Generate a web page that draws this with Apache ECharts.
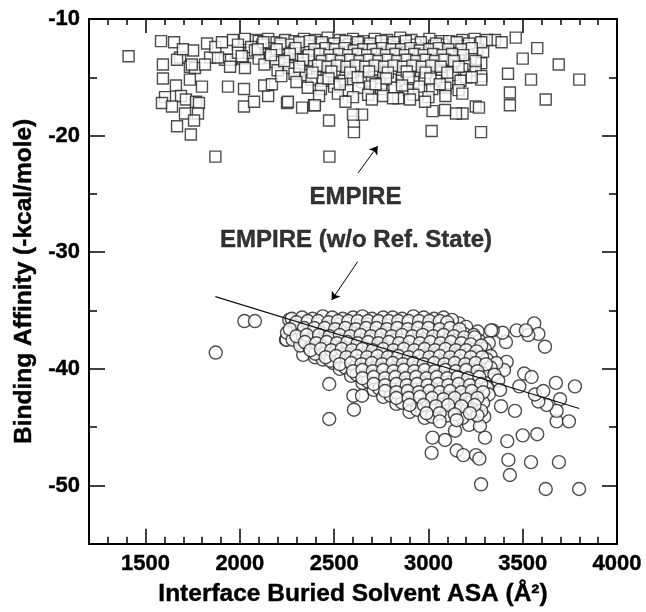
<!DOCTYPE html>
<html>
<head>
<meta charset="utf-8">
<script src="https://cdn.jsdelivr.net/npm/echarts@6/dist/echarts.min.js"></script>
<style>
  html, body { margin: 0; padding: 0; background: #fff; }
  #main { width: 646px; height: 612px; }
</style>
</head>
<body>
<div id="main"></div>
<script>
// EMPIRE scores (squares)
var empirePts = [
  [1410,-13.2],[1870,-21.8],[2475,-21.8],[2605,-19.7],[2605,-18.8],[2648,-18.2],[3017,-19.6],[3279,-19.7],
  [3251,-17.5],[3268,-17.6],[3181,-18.1],[3146,-18.1],[3088,-17.8],[3022,-17.9],[3432,-17.4],[3432,-16.3],
  [3422,-14.7],[3463,-11.6],[3500,-13.4],[3577,-12.5],[3544,-15.2],[3622,-16.9],[3691,-13.9],[3800,-15.2],
  [3353,-11.8],[3388,-12.0],[3309,-11.8],
  [1582,-11.9],[1651,-12.0],[1683,-13.3],[1752,-12.7],[1667,-13.5],[1592,-15.1],[1661,-15.7],[1603,-16.7],
  [1688,-16.6],[1587,-17.2],[1640,-17.5],[1714,-16.9],[1767,-17.1],[1783,-17.2],[1709,-18.1],[1778,-18.1],
  [1757,-18.7],[1667,-19.2],[1740,-19.9],[1937,-15.8],[2022,-16.0],[2022,-17.5],[2075,-17.1],[2150,-16.6],
  [2129,-15.7],[2170,-15.6],[2250,-17.2],[2330,-17.6],[2393,-17.4],[2473,-18.7],[2600,-18.2],[1592,-13.9],
  [1735,-14.1],[1762,-14.2],[1698,-12.6],[1826,-12.1],[1842,-13.3],[1921,-13.5],[1884,-13.3],[1953,-13.5],
  [2017,-13.4],[1963,-11.8],[2027,-11.7],[2085,-11.8],[1948,-14.1],[1735,-15.2],[1799,-15.8],[2255,-17.1],
  [1815,-13.9],[1745,-13.9],[2027,-14.2],[1870,-12.4],[1905,-12.0],[1990,-12.2],[2050,-12.9],
  [2100,-11.9],[2150,-11.7],[2195,-12.0],[2240,-11.8],[2290,-11.9],[2340,-11.7],[2400,-11.8],[2465,-11.6],
  [2530,-11.8],[2600,-11.7],[2655,-11.9],[2715,-11.7],[2780,-11.8],[2850,-11.6],[2910,-11.8],[3005,-11.7],
  [3070,-11.9],[3180,-11.8],[3245,-11.7],
  [2060,-12.4],[2120,-12.2],[2170,-12.5],[2220,-12.3],[2270,-12.2],[2320,-12.4],[2370,-12.3],[2420,-12.2],
  [2480,-12.5],[2530,-12.3],[2580,-12.2],[2630,-12.4],[2680,-12.3],[2730,-12.5],[2780,-12.2],[2830,-12.4],
  [2880,-12.3],[2930,-12.2],[2980,-12.5],[3030,-12.3],[3080,-12.2],[3130,-12.4],[3190,-12.3],[3260,-12.6],
  [1990,-12.9],[2080,-12.7],[2140,-13.0],[2190,-12.8],[2240,-12.9],[2290,-12.7],[2345,-12.8],[2395,-13.0],
  [2450,-12.7],[2500,-12.9],[2550,-12.8],[2600,-12.6],[2650,-12.9],[2700,-12.8],[2750,-13.0],[2800,-12.7],
  [2850,-12.9],[2900,-12.8],[2950,-12.6],[3000,-12.9],[3050,-12.8],[3100,-13.0],[3150,-12.7],[3210,-12.9],
  [3290,-12.8],
  [2010,-13.2],[2100,-13.4],[2160,-13.3],[2210,-13.1],[2260,-13.4],[2310,-13.3],[2360,-13.2],[2410,-13.5],
  [2460,-13.3],[2510,-13.2],[2560,-13.4],[2610,-13.3],[2660,-13.1],[2710,-13.4],[2760,-13.3],[2810,-13.5],
  [2860,-13.2],[2910,-13.3],[2960,-13.4],[3010,-13.2],[3060,-13.3],[3110,-13.5],[3160,-13.2],[3230,-13.4],
  [2130,-13.9],[2190,-13.7],[2240,-13.8],[2290,-14.0],[2340,-13.8],[2390,-13.7],[2440,-13.9],[2490,-13.8],
  [2540,-14.0],[2590,-13.7],[2640,-13.8],[2690,-13.9],[2740,-13.7],[2790,-14.0],[2840,-13.8],[2890,-13.7],
  [2940,-13.9],[2990,-13.8],[3040,-14.0],[3090,-13.8],[3140,-13.7],[3200,-13.9],[3280,-13.8],
  [2200,-14.4],[2260,-14.2],[2320,-14.3],[2370,-14.5],[2420,-14.3],[2470,-14.2],[2520,-14.4],[2570,-14.3],
  [2620,-14.5],[2670,-14.2],[2720,-14.3],[2770,-14.4],[2820,-14.2],[2870,-14.5],[2920,-14.3],[2970,-14.2],
  [3020,-14.4],[3070,-14.3],[3120,-14.5],[3180,-14.3],[3250,-14.4],
  [2220,-14.9],[2290,-14.7],[2350,-14.8],[2410,-15.0],[2460,-14.8],[2510,-14.7],[2560,-14.9],[2610,-14.8],
  [2660,-15.0],[2710,-14.7],[2760,-14.8],[2810,-14.9],[2860,-14.7],[2910,-15.0],[2960,-14.8],[3010,-14.7],
  [3070,-14.9],[3130,-14.8],[3200,-15.0],[3280,-14.9],
  [2300,-15.4],[2380,-15.2],[2440,-15.3],[2500,-15.5],[2550,-15.3],[2600,-15.2],[2650,-15.4],[2700,-15.3],
  [2750,-15.5],[2800,-15.2],[2860,-15.3],[2920,-15.4],[2980,-15.2],[3040,-15.3],[3100,-15.5],[3170,-15.3],
  [3280,-15.2],
  [2360,-15.9],[2430,-16.0],[2500,-15.8],[2570,-16.1],[2630,-15.9],[2690,-15.8],[2750,-16.0],[2820,-15.9],
  [2890,-16.1],[2950,-15.8],[3020,-16.0],[3090,-15.9],[3160,-16.1],
  [2420,-16.6],[2520,-16.4],[2600,-16.7],[2680,-16.5],[2760,-16.6],[2840,-16.8],[2920,-16.5],[3000,-16.7],
  [3090,-16.6],[3180,-16.4],
  [2560,-17.1],[2700,-16.9],[2812,-16.8],[2902,-16.9],[2982,-17.1],[2398,-17.4],
  [2125,-12.0],[2215,-12.1],[2315,-12.0],[2370,-11.9],[2435,-12.0],[2500,-12.1],[2560,-11.9],[2625,-12.0],
  [2690,-12.1],[2750,-11.9],[2815,-12.0],[2880,-11.9],[2960,-12.0],[3040,-12.1],[3110,-11.9],[3150,-12.0],
  [3215,-12.1],[3280,-12.0],
  [2095,-12.6],[2195,-12.6],[2295,-12.5],[2395,-12.6],[2455,-12.5],[2505,-12.6],[2555,-12.5],[2605,-12.7],
  [2655,-12.6],[2705,-12.6],[2755,-12.5],[2805,-12.6],[2855,-12.6],[2905,-12.5],[2955,-12.7],[3005,-12.6],
  [3055,-12.5],[3105,-12.6],[3175,-12.6],[3230,-12.5],
  [2165,-13.1],[2265,-13.0],[2365,-13.1],[2425,-13.0],[2475,-13.1],[2525,-13.0],[2575,-13.1],[2625,-13.0],
  [2675,-13.1],[2725,-13.0],[2775,-13.1],[2825,-13.0],[2875,-13.1],[2925,-13.0],[2975,-13.1],[3025,-13.0],
  [3075,-13.1],[3125,-13.0],[3185,-13.1],
  [2235,-13.6],[2335,-13.5],[2435,-13.6],[2485,-13.5],[2535,-13.6],[2585,-13.5],[2635,-13.6],[2685,-13.5],
  [2735,-13.6],[2785,-13.5],[2835,-13.6],[2885,-13.5],[2935,-13.6],[2985,-13.5],[3035,-13.6],[3085,-13.5],
  [3135,-13.6],[3250,-13.6],
  [2315,-14.1],[2415,-14.0],[2465,-14.1],[2515,-14.0],[2565,-14.1],[2615,-14.0],[2665,-14.1],[2715,-14.0],
  [2765,-14.1],[2815,-14.0],[2865,-14.1],[2915,-14.0],[2965,-14.1],[3015,-14.0],[3065,-14.1],[3160,-14.1],
  [2385,-14.6],[2485,-14.5],[2585,-14.6],[2685,-14.5],[2785,-14.6],[2885,-14.5],[2985,-14.6],[3100,-14.6],
  [2470,-15.1],[2625,-15.0],[2775,-15.1],[2895,-15.0],[3010,-15.1],[3230,-15.0],
  [2530,-15.6],[2720,-15.6],[2860,-15.7],[3060,-15.6]
];

// EMPIRE without reference state (circles)
var noRefPts = [
  [1872,-38.6],[2024,-35.9],[2080,-35.9],[2262,-35.8],[2245,-37.5],[2474,-41.3],[2602,-42.3],[2648,-42.3],
  [2605,-43.5],[2474,-44.3],[3017,-47.2],[3279,-49.9],[3622,-50.3],[3799,-50.3],[3424,-47.8],[3432,-49.1],
  [3544,-48.0],[3692,-48.0],[3418,-46.2],[3500,-45.7],[3577,-45.6],[3680,-44.5],[3745,-44.5],[3150,-47.0],
  [3185,-47.4],[3252,-47.4],[3270,-47.7],[3088,-46.1],[3022,-45.9],[3141,-45.3],[3300,-45.9],[3459,-43.6],
  [3385,-43.2],[3777,-41.5],[3676,-41.2],[3698,-42.6],[3680,-43.6],[3627,-43.1],[3583,-42.8],[3565,-42.2],
  [3609,-41.9],[3508,-40.4],[3547,-40.7],[3482,-41.5],[3415,-39.4],[3401,-40.1],[3561,-36.1],[3583,-37.0],
  [3618,-38.1],[3530,-37.1],[3468,-36.7],[3411,-37.7],[3393,-36.9],[3341,-36.7],[3162,-36.1],[3261,-36.8],
  [3332,-36.7],[3517,-36.7],[3215,-44.8],[3296,-44.1],[3273,-44.9],[3120,-43.5],
  [2248,-37.5],[2292,-37.0],[2328,-37.9],[2336,-38.8],[2398,-39.0],[2393,-37.4],[2495,-39.5],[2440,-39.2],
  [2275,-35.7],[2330,-35.6],[2385,-35.7],[2440,-35.5],[2490,-35.6],[2545,-35.7],[2600,-35.6],[2650,-35.5],
  [2700,-35.7],[2760,-35.6],[2810,-35.6],[2860,-35.7],[2920,-35.5],[2975,-35.6],[3030,-35.7],[3080,-35.6],
  [3125,-35.8],
  [2290,-36.3],[2350,-36.1],[2410,-36.2],[2460,-36.4],[2520,-36.2],[2570,-36.1],[2625,-36.3],[2680,-36.2],
  [2730,-36.0],[2785,-36.3],[2840,-36.2],[2890,-36.1],[2945,-36.4],[3000,-36.2],[3050,-36.1],[3105,-36.3],
  [3200,-36.4],
  [2250,-36.9],[2310,-36.8],[2370,-36.7],[2425,-36.9],[2480,-36.8],[2535,-36.6],[2590,-36.9],[2645,-36.8],
  [2700,-36.7],[2755,-37.0],[2810,-36.8],[2865,-36.7],[2920,-36.9],[2975,-36.8],[3030,-36.6],[3085,-36.9],
  [3140,-36.8],[3190,-37.0],[3240,-37.1],
  [2280,-37.5],[2335,-37.3],[2395,-37.4],[2450,-37.6],[2505,-37.4],[2560,-37.3],[2615,-37.5],[2670,-37.4],
  [2725,-37.2],[2780,-37.5],[2835,-37.4],[2890,-37.3],[2945,-37.6],[3000,-37.4],[3055,-37.3],[3110,-37.5],
  [3165,-37.4],[3215,-37.6],[3270,-37.6],[3320,-37.8],
  [2320,-38.0],[2370,-38.2],[2430,-38.0],[2485,-37.9],[2540,-38.1],[2595,-38.0],[2650,-37.9],[2705,-38.2],
  [2760,-38.0],[2815,-37.9],[2870,-38.1],[2925,-38.0],[2980,-38.2],[3035,-37.9],[3090,-38.0],[3145,-38.1],
  [3200,-38.0],[3250,-38.2],[3300,-38.3],
  [2400,-38.7],[2455,-38.6],[2510,-38.5],[2565,-38.7],[2620,-38.6],[2675,-38.8],[2730,-38.5],[2785,-38.6],
  [2840,-38.7],[2895,-38.5],[2950,-38.6],[3005,-38.8],[3060,-38.6],[3115,-38.5],[3170,-38.7],[3225,-38.6],
  [3280,-38.8],[3330,-38.9],
  [2480,-39.3],[2535,-39.2],[2590,-39.1],[2645,-39.3],[2700,-39.2],[2755,-39.4],[2810,-39.1],[2865,-39.2],
  [2920,-39.3],[2975,-39.1],[3030,-39.2],[3085,-39.4],[3140,-39.2],[3195,-39.1],[3250,-39.3],[3310,-39.2],
  [3360,-39.5],
  [2530,-40.0],[2560,-39.9],[2615,-39.8],[2670,-39.7],[2725,-39.9],[2780,-39.8],[2835,-40.0],[2890,-39.7],
  [2945,-39.8],[3000,-39.9],[3055,-39.7],[3110,-39.8],[3165,-40.0],[3220,-39.8],[3275,-39.7],[3330,-39.9],
  [2590,-40.6],[2620,-40.5],[2680,-40.4],[2735,-40.3],[2790,-40.5],[2845,-40.4],[2900,-40.6],[2955,-40.3],
  [3010,-40.4],[3065,-40.5],[3120,-40.3],[3175,-40.4],[3230,-40.6],[3290,-40.4],[3350,-40.5],
  [2650,-41.2],[2680,-41.1],[2740,-41.0],[2800,-40.9],[2855,-41.1],[2910,-41.0],[2965,-41.2],[3020,-40.9],
  [3075,-41.0],[3130,-41.1],[3185,-40.9],[3240,-41.0],[3300,-41.2],[3370,-41.0],
  [2710,-41.8],[2740,-41.7],[2800,-41.6],[2860,-41.5],[2915,-41.7],[2970,-41.6],[3025,-41.8],[3080,-41.5],
  [3135,-41.6],[3190,-41.7],[3250,-41.5],[3310,-41.6],[3380,-41.8],
  [2760,-42.4],[2800,-42.3],[2860,-42.2],[2920,-42.1],[2980,-42.3],[3035,-42.2],[3090,-42.4],[3145,-42.1],
  [3200,-42.2],[3260,-42.3],[3320,-42.2],
  [2830,-43.0],[2860,-42.9],[2930,-42.8],[2990,-42.7],[3050,-42.9],[3110,-42.8],[3170,-43.0],[3230,-42.8],
  [3290,-42.9],
  [2900,-43.7],[2940,-43.5],[3010,-43.4],[3075,-43.3],[3140,-43.5],[3210,-43.4],[3280,-43.6],
  [2980,-44.2],[3020,-44.1],[3100,-44.0],[3180,-44.2],[3260,-44.0],
  [2300,-36.0],[2360,-35.9],[2415,-35.9],[2470,-36.0],[2520,-35.9],[2575,-35.9],[2625,-35.9],[2680,-35.9],
  [2735,-35.9],[2790,-35.9],[2840,-35.9],[2895,-35.9],[2950,-35.9],[3005,-35.9],[3060,-35.9],[3100,-36.0],
  [2265,-36.6],[2340,-36.5],[2395,-36.5],[2450,-36.5],[2505,-36.6],[2560,-36.5],[2615,-36.6],[2670,-36.5],
  [2725,-36.5],[2780,-36.6],[2835,-36.5],[2890,-36.6],[2945,-36.5],[3000,-36.5],[3060,-36.6],[3115,-36.5],
  [3165,-36.6],
  [2300,-37.2],[2355,-37.1],[2420,-37.1],[2475,-37.2],[2530,-37.1],[2585,-37.2],[2640,-37.1],[2695,-37.2],
  [2750,-37.1],[2805,-37.2],[2860,-37.1],[2915,-37.2],[2970,-37.1],[3025,-37.2],[3080,-37.1],[3135,-37.2],
  [3190,-37.3],[3245,-37.3],
  [2345,-37.7],[2405,-37.8],[2460,-37.7],[2515,-37.8],[2570,-37.7],[2625,-37.8],[2680,-37.7],[2735,-37.8],
  [2790,-37.7],[2845,-37.8],[2900,-37.7],[2955,-37.8],[3010,-37.7],[3065,-37.8],[3120,-37.7],[3175,-37.8],
  [3225,-37.9],[3280,-38.0],
  [2375,-38.4],[2430,-38.3],[2485,-38.4],[2540,-38.3],[2595,-38.4],[2650,-38.3],[2705,-38.4],[2760,-38.3],
  [2815,-38.4],[2870,-38.3],[2925,-38.4],[2980,-38.3],[3035,-38.4],[3090,-38.3],[3145,-38.4],[3200,-38.4],
  [3255,-38.5],
  [2455,-39.0],[2510,-38.9],[2565,-39.0],[2620,-38.9],[2675,-39.0],[2730,-38.9],[2785,-39.0],[2840,-38.9],
  [2895,-39.0],[2950,-38.9],[3005,-39.0],[3060,-38.9],[3115,-39.0],[3170,-38.9],[3225,-39.0],[3285,-39.0],
  [2530,-39.6],[2590,-39.5],[2645,-39.6],[2700,-39.5],[2755,-39.6],[2810,-39.5],[2865,-39.6],[2920,-39.5],
  [2975,-39.6],[3030,-39.5],[3085,-39.6],[3140,-39.5],[3195,-39.6],[3250,-39.5],[3305,-39.6],
  [2600,-40.2],[2650,-40.1],[2705,-40.2],[2760,-40.1],[2815,-40.2],[2870,-40.1],[2925,-40.2],[2980,-40.1],
  [3035,-40.2],[3090,-40.1],[3145,-40.2],[3200,-40.1],[3260,-40.2],
  [2650,-40.8],[2710,-40.7],[2770,-40.8],[2825,-40.7],[2880,-40.8],[2935,-40.7],[2990,-40.8],[3045,-40.7],
  [3100,-40.8],[3155,-40.7],[3210,-40.8],[3270,-40.7],
  [2710,-41.3],[2770,-41.4],[2830,-41.3],[2885,-41.4],[2940,-41.3],[2995,-41.4],[3050,-41.3],[3105,-41.4],
  [3160,-41.3],[3220,-41.4],[3280,-41.3],
  [2770,-41.9],[2830,-42.0],[2890,-41.9],[2950,-42.0],[3005,-41.9],[3060,-42.0],[3115,-41.9],[3175,-42.0],
  [3230,-41.9],[3290,-42.0],
  [2830,-42.5],[2895,-42.5],[2955,-42.4],[3020,-42.5],[3080,-42.6],[3140,-42.5],[3200,-42.6],[3260,-42.5],
  [2900,-43.1],[2975,-43.1],[3040,-43.2],[3105,-43.1],[3175,-43.2],[3245,-43.1],
  [2990,-43.8],[3060,-43.8],[3140,-43.9],[3220,-43.8],[3060,-44.5],[3150,-44.4]
];

// fitted line for the circles
var fitLine = [[1870,-33.8],[3800,-43.4]];

// annotation text anchors and arrows (data coords)
var noteLabels = [[2613,-25.3,'EMPIRE'],[2616,-29.0,'EMPIRE (w/o Ref. State)']];
var arrowSegs = [
  [[2627,-23.2],[2731,-20.9]],
  [[2625,-30.8],[2487,-34.1]]
];

var xMajor = [1500,2000,2500,3000,3500,4000];
var xMinor = [1300,1400,1600,1700,1800,1900,2100,2200,2300,2400,2600,2700,2800,2900,
              3100,3200,3300,3400,3600,3700,3800,3900];
var yMajor = [-50,-40,-30,-20,-10];
var yMinor = [-45,-35,-25,-15];

var FONT = 'Liberation Sans';

function tickAxis(pos, min, max, values, len, withLabels, extra){
  var ax = {
    type: 'value', position: pos, min: min, max: max,
    axisLine: {show: true, onZero: false, lineStyle: {color: '#000', width: 2}},
    axisTick: {show: true, inside: true, length: len, customValues: values,
               lineStyle: {color: '#000', width: 1.5}},
    axisLabel: {show: withLabels, customValues: values, margin: 9,
                formatter: function(v){ return String(v); },
                fontFamily: FONT, fontWeight: 'bold', fontSize: 22, color: '#000',
                textBorderColor: '#000', textBorderWidth: 0.4},
    splitLine: {show: false},
    minorTick: {show: false}
  };
  if(extra){ for(var k in extra) ax[k] = extra[k]; }
  return ax;
}

var nameStyle = {fontFamily: FONT, fontWeight: 'bold', fontSize: 24.5, color: '#000',
                 textBorderColor: '#000', textBorderWidth: 0.4};

var chart = echarts.init(document.getElementById('main'));

chart.setOption({
  animation: false,
  backgroundColor: '#fff',
  grid: {left: 89, right: 29, top: 19, bottom: 67},
  xAxis: [
    tickAxis('bottom', 1200, 4000, xMajor, 15, true, {
      name: 'Interface Buried Solvent ASA (\u00c5\u00b2)',
      nameLocation: 'middle', nameGap: 38, nameTextStyle: nameStyle
    }),
    tickAxis('bottom', 1200, 4000, xMinor, 7, false),
    tickAxis('top', 1200, 4000, xMajor, 14, false),
    tickAxis('top', 1200, 4000, xMinor, 6, false)
  ],
  yAxis: [
    tickAxis('left', -55, -10, yMajor, 16, true, {
      name: 'Binding Affinity (-kcal/mole)',
      nameLocation: 'middle', nameGap: 50, nameTextStyle: nameStyle
    }),
    tickAxis('left', -55, -10, yMinor, 8, false),
    tickAxis('right', -55, -10, yMajor, 15, false),
    tickAxis('right', -55, -10, yMinor, 8, false)
  ],
  series: [
    {
      name: 'EMPIRE',
      type: 'scatter',
      data: empirePts,
      symbol: 'rect',
      symbolSize: 11,
      itemStyle: {color: '#fff', borderColor: '#222', borderWidth: 1.4},
      silent: true
    },
    {
      name: 'EMPIRE (w/o Ref. State)',
      type: 'scatter',
      data: noRefPts,
      symbol: 'circle',
      symbolSize: 13,
      itemStyle: {color: '#fff', borderColor: '#222', borderWidth: 1.4},
      silent: true
    },
    {
      name: 'fit',
      type: 'line',
      data: fitLine,
      showSymbol: false,
      symbol: 'none',
      lineStyle: {color: '#111', width: 1.2},
      z: 5,
      silent: true
    },
    {
      name: 'notes',
      type: 'scatter',
      data: noteLabels,
      symbolSize: 1,
      itemStyle: {color: 'rgba(0,0,0,0)'},
      label: {
        show: true, position: 'inside',
        formatter: function(p){ return p.data[2]; },
        fontFamily: FONT, fontWeight: 'bold', fontSize: 24, color: '#000',
        textBorderColor: '#000', textBorderWidth: 0.4
      },
      markLine: {
        silent: true,
        symbol: ['none', 'arrow'],
        symbolSize: 8,
        label: {show: false},
        lineStyle: {color: '#000', width: 1, type: 'solid'},
        data: arrowSegs.map(function(s){
          return [{coord: s[0]}, {coord: s[1]}];
        })
      },
      silent: true,
      z: 6
    }
  ]
});
</script>
</body>
</html>
